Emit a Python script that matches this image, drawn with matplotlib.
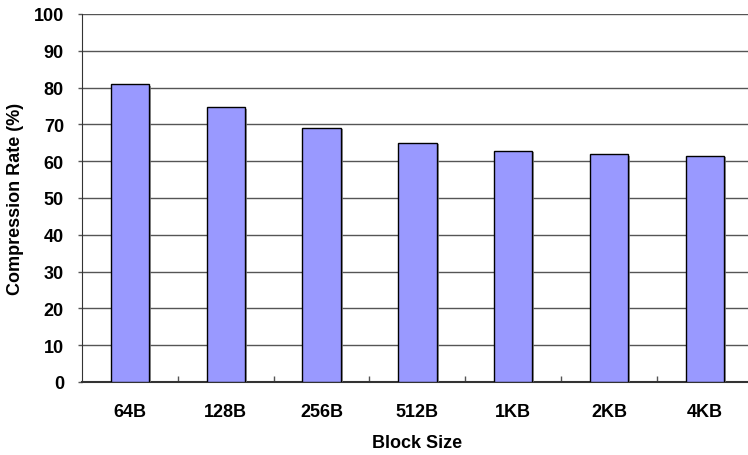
import matplotlib
matplotlib.use("Agg")
import matplotlib.pyplot as plt
import matplotlib.patheffects as pe
from matplotlib.ticker import FixedLocator, MultipleLocator

block_sizes = ["64B", "128B", "256B", "512B", "1KB", "2KB", "4KB"]
compression_rate = [80.9, 74.6, 69.0, 65.0, 62.9, 61.9, 61.4]

plt.rcParams["font.family"] = ["Liberation Sans", "DejaVu Sans"]
plt.rcParams["font.weight"] = "bold"

W, H = 748, 456
fig = plt.figure(figsize=(W / 100, H / 100), dpi=100)
left, right, top, bottom = 82, 752.7, 15, 383
ax = fig.add_axes([left / W, (H - bottom) / H, (right - left) / W, (bottom - top) / H])

x = list(range(len(block_sizes)))
bars = ax.bar(x, compression_rate, width=0.40, color="#9999FF",
              edgecolor="black", linewidth=1.0, zorder=3)
for b in bars:
    b.set_path_effects([pe.SimplePatchShadow(offset=(1.5, -1.0), shadow_rgbFace="#808080", alpha=0.8),
                        pe.Normal()])

ax.set_xlim(-0.5, len(block_sizes) - 0.5)
ax.set_ylim(0, 100)

ax.yaxis.set_major_locator(MultipleLocator(10))
ax.yaxis.grid(True, color="#555555", linewidth=1.0, zorder=0)
ax.set_axisbelow(True)

ax.set_xticks(x)
ax.set_xticklabels(block_sizes)
ax.xaxis.set_minor_locator(FixedLocator([i + 0.5 for i in range(len(block_sizes) - 1)]))
ax.tick_params(axis="x", which="major", length=0, pad=15, labelsize=13)
ax.tick_params(axis="x", which="minor", direction="in", length=4, width=1, color="#555555")
ax.tick_params(axis="y", which="major", direction="out", length=3, width=1, pad=10,
               labelsize=13, color="#555555")

for s in ("top", "right"):
    ax.spines[s].set_visible(False)
ax.spines["left"].set_color("#333333")
ax.spines["bottom"].set_color("#333333")
ax.spines["bottom"].set_linewidth(1.5)

for lbl in ax.get_xticklabels() + ax.get_yticklabels():
    lbl.set_fontweight("bold")

ax.set_xlabel("Block Size", fontsize=13, fontweight="bold", labelpad=10)
ax.set_ylabel("Compression Rate (%)", fontsize=13, fontweight="bold", labelpad=7)

fig.savefig("out.png", dpi=100)
